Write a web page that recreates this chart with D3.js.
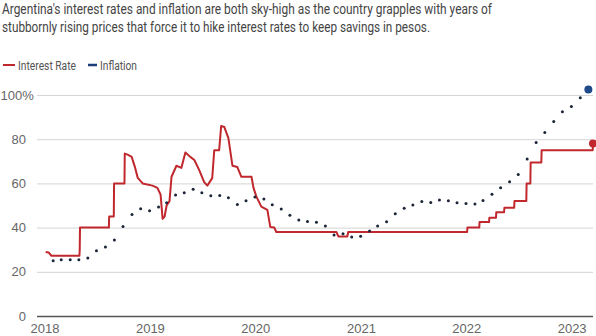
<!DOCTYPE html>
<html>
<head>
<meta charset="utf-8">
<script src="https://cdn.jsdelivr.net/npm/d3@7"></script>
<style>
  body { margin: 0; background: #fff; }
  svg { display: block; font-family: Roboto, "Noto Sans", sans-serif; }
</style>
</head>
<body>
<svg id="chart"></svg>
<script>
// Interest rate (policy rate, %)
const rateDates = [
  "2018-01-05", "2018-01-15", "2018-01-25", "2018-05-02", "2018-05-03", "2018-05-04",
  "2018-08-12", "2018-08-13", "2018-08-29", "2018-08-30", "2018-10-05", "2018-10-06",
  "2018-10-16", "2018-10-30", "2018-11-10", "2018-11-20", "2018-12-07", "2019-01-10",
  "2019-01-27", "2019-02-07", "2019-02-14", "2019-02-21", "2019-02-28", "2019-03-10",
  "2019-03-17", "2019-04-03", "2019-04-20", "2019-05-04", "2019-05-21", "2019-06-04",
  "2019-06-21", "2019-07-08", "2019-07-19", "2019-08-05", "2019-08-12", "2019-08-29",
  "2019-09-05", "2019-09-16", "2019-09-30", "2019-10-14", "2019-10-31", "2019-11-14",
  "2019-12-19", "2019-12-26", "2020-01-05", "2020-01-22", "2020-02-12", "2020-02-22",
  "2020-03-07", "2020-03-14", "2020-10-08", "2020-10-15", "2020-11-15", "2020-11-18",
  "2022-01-04", "2022-01-05", "2022-02-15", "2022-02-16", "2022-03-21", "2022-03-22",
  "2022-04-14", "2022-04-15", "2022-05-12", "2022-05-13", "2022-06-16", "2022-06-17",
  "2022-07-28", "2022-07-29", "2022-08-11", "2022-08-12", "2022-09-18", "2022-09-19",
  "2023-03-15", "2023-03-16"
];
const rateValues = [
  29, 28.75, 27.25, 27.25, 30.25, 40,
  40, 45, 45, 60, 60, 73.5,
  73, 72, 67.5, 62.5, 60, 59,
  58, 55, 44, 45, 50, 52,
  63, 68, 67, 74, 72, 70.6,
  66, 60.6, 59, 62.4, 75, 75,
  86, 85.5, 80.5, 68, 67.4, 63,
  63, 58, 54, 49.5, 48, 40.3,
  40, 38, 38, 36, 36, 38,
  38, 40, 40, 42.5, 42.5, 44.5,
  44.5, 47, 47, 49, 49, 52,
  52, 60, 60, 69.5, 69.5, 75,
  75, 78
];

// Inflation (annual %, monthly readings)
const inflationMonths = [
  "2018-01", "2018-02", "2018-03", "2018-04", "2018-05", "2018-06", "2018-07", "2018-08", "2018-09", "2018-10", "2018-11", "2018-12",
  "2019-01", "2019-02", "2019-03", "2019-04", "2019-05", "2019-06", "2019-07", "2019-08", "2019-09", "2019-10", "2019-11", "2019-12",
  "2020-01", "2020-02", "2020-03", "2020-04", "2020-05", "2020-06", "2020-07", "2020-08", "2020-09", "2020-10", "2020-11", "2020-12",
  "2021-01", "2021-02", "2021-03", "2021-04", "2021-05", "2021-06", "2021-07", "2021-08", "2021-09", "2021-10", "2021-11", "2021-12",
  "2022-01", "2022-02", "2022-03", "2022-04", "2022-05", "2022-06", "2022-07", "2022-08", "2022-09", "2022-10", "2022-11", "2022-12",
  "2023-01", "2023-02"
];
const inflationValues = [
  25.0, 25.4, 25.4, 25.5, 26.3, 29.5, 31.2, 34.4, 40.5, 45.9, 48.5, 47.6,
  49.3, 51.3, 54.7, 55.8, 57.3, 55.8, 54.4, 54.5, 53.5, 50.5, 52.1, 53.8,
  52.9, 50.3, 48.4, 45.6, 43.4, 42.8, 42.4, 40.7, 36.6, 37.2, 35.8, 36.1,
  38.5, 40.7, 42.6, 46.3, 48.8, 50.2, 51.8, 51.4, 52.5, 52.1, 51.2, 50.9,
  50.7, 52.3, 55.1, 58.0, 60.7, 64.0, 71.0, 78.5, 83.0, 88.0, 92.4, 94.8,
  98.8, 102.5
];

const yTicks = [0, 20, 40, 60, 80, 100];
const xTickYears = ["2018", "2019", "2020", "2021", "2022", "2023"];

const titleLines = [
  "Argentina's interest rates and inflation are both sky-high as the country grapples with years of",
  "stubbornly rising prices that force it to hike interest rates to keep savings in pesos."
];
const seriesNames = ["Interest Rate", "Inflation"];

const width = 596, height = 336;
const plotLeft = 37, plotRight = 593, plotTop = 95, plotBottom = 316;
const red = "#c0282d", blue = "#1d3d78";

const parseDay = d3.timeParse("%Y-%m-%d");
const parseMonth = d3.timeParse("%Y-%m");
const parseYear = d3.timeParse("%Y");

const svg = d3.select("#chart").attr("width", width).attr("height", height);

const x = d3.scaleTime()
  .domain([parseDay("2017-12-06"), parseDay("2023-03-16")])
  .range([plotLeft, plotRight]);
const y = d3.scaleLinear().domain([0, 100]).range([plotBottom, plotTop]);

// squeeze text to the condensed widths of the original face
function fitWidth(sel, w) {
  sel.attr("textLength", w).attr("lengthAdjust", "spacingAndGlyphs");
}

// Title
const titleWidths = [490, 428];
svg.append("g").selectAll("text")
  .data(titleLines)
  .join("text")
  .attr("x", 2)
  .attr("y", (d, i) => 13.5 + i * 18.5)
  .attr("font-size", 14)
  .attr("fill", "#444")
  .text(d => d)
  .each(function(d, i) { fitWidth(d3.select(this), titleWidths[i]); });

// Legend
const legend = svg.append("g").attr("font-size", 13).attr("fill", "#555");
legend.append("line").attr("x1", 3).attr("x2", 15).attr("y1", 65).attr("y2", 65)
  .attr("stroke", red).attr("stroke-width", 2);
legend.append("text").attr("x", 18).attr("y", 69.5).text(seriesNames[0]).call(fitWidth, 58);
legend.append("line").attr("x1", 88).attr("x2", 97).attr("y1", 65).attr("y2", 65)
  .attr("stroke", blue).attr("stroke-width", 2.5);
legend.append("text").attr("x", 100).attr("y", 69.5).text(seriesNames[1]).call(fitWidth, 37);

// Y grid + labels
const yAxis = svg.append("g")
  .attr("transform", `translate(${plotLeft},0)`)
  .call(d3.axisLeft(y).tickValues(yTicks).tickSize(-(plotRight - plotLeft)).tickPadding(11));
yAxis.select(".domain").remove();
yAxis.selectAll(".tick line")
  .attr("stroke", d => d === 0 ? "#555" : "#d4d4d4")
  .attr("stroke-width", d => d === 0 ? 1.6 : 1);
yAxis.selectAll(".tick text")
  .attr("font-size", 13).attr("fill", "#666").attr("font-family", null)
  .text(d => d)
  .filter(d => d === 100)
  .append("tspan").text("%");
yAxis.selectAll(".tick text").filter(d => d === 100).attr("dx", "0.6em");

// X labels
const xAxis = svg.append("g")
  .attr("transform", `translate(0,${plotBottom})`)
  .call(d3.axisBottom(x).tickValues(xTickYears.map(parseYear)).tickSize(0).tickPadding(8)
    .tickFormat(d3.timeFormat("%Y")));
xAxis.select(".domain").remove();
xAxis.selectAll(".tick text").attr("font-size", 13).attr("fill", "#666").attr("font-family", null);

// Interest rate line
const rate = rateDates.map((d, i) => ({ date: parseDay(d), value: rateValues[i] }));
svg.append("path")
  .datum(rate)
  .attr("fill", "none")
  .attr("stroke", red)
  .attr("stroke-width", 2)
  .attr("stroke-linejoin", "round")
  .attr("d", d3.line().x(d => x(d.date)).y(d => y(d.value)));
const lastRate = rate[rate.length - 1];
svg.append("circle")
  .attr("cx", x(lastRate.date)).attr("cy", y(lastRate.value)).attr("r", 4)
  .attr("fill", red);

// Inflation dots, plotted at the end of each month
const inflation = inflationMonths.map((m, i) => ({
  date: d3.timeDay.offset(d3.timeMonth.offset(parseMonth(m), 1), -1),
  value: inflationValues[i]
}));
svg.append("g").selectAll("circle")
  .data(inflation)
  .join("circle")
  .attr("cx", d => x(d.date))
  .attr("cy", d => y(d.value))
  .attr("r", (d, i) => i === inflation.length - 1 ? 4 : 1.5)
  .attr("fill", (d, i) => i === inflation.length - 1 ? "#1f4a8a" : "#1b2438");
</script>
</body>
</html>
